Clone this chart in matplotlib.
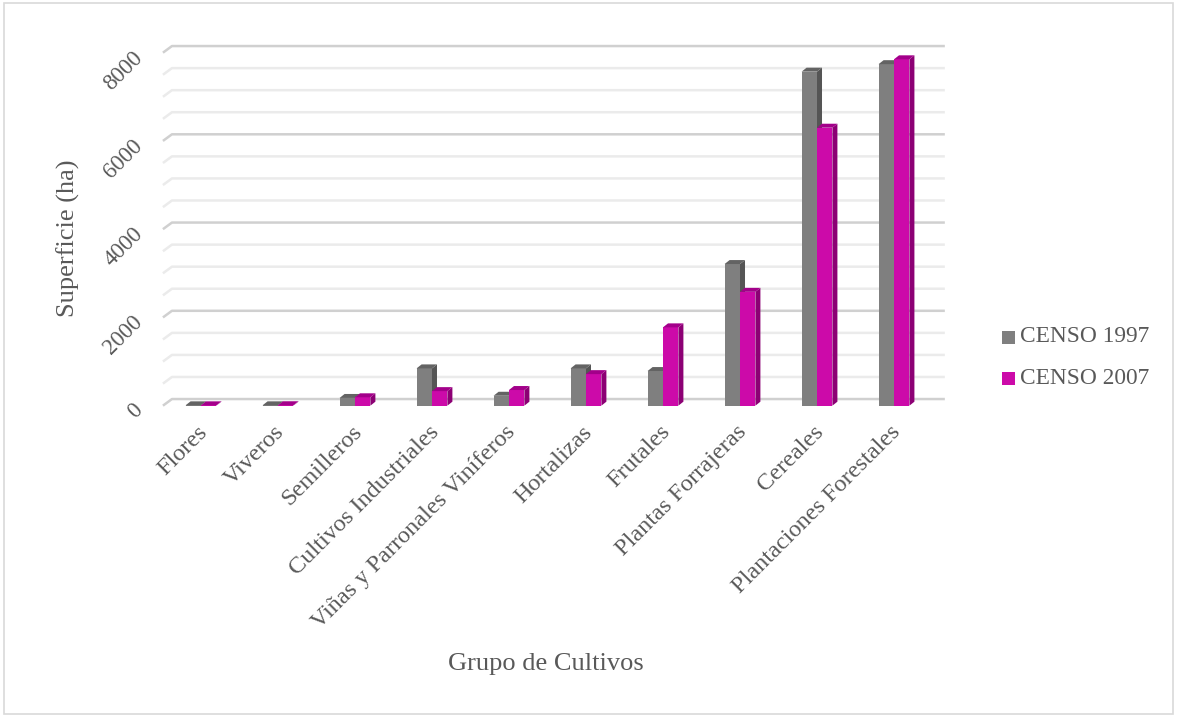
import matplotlib.pyplot as plt
import numpy as np
from matplotlib.patches import Polygon, Rectangle

# data (ha)
categories = ['Flores', 'Viveros', 'Semilleros', 'Cultivos Industriales',
              'Viñas y Parronales Viníferos', 'Hortalizas', 'Frutales',
              'Plantas Forrajeras', 'Cereales', 'Plantaciones Forestales']
censo_1997 = [8, 8, 175, 845, 225, 845, 785, 3210, 7570, 7740]
censo_2007 = [8, 10, 190, 330, 355, 715, 1775, 2580, 6300, 7850]
series_names = ['CENSO 1997', 'CENSO 2007']
yticks = [0, 2000, 4000, 6000, 8000]
minor_step = 500

front_cols = ['#7f7f7f', '#cc0aa9']
side_cols = ['#555555', '#8c0074']
top_cols = ['#636363', '#a3008a']
txt = '#595959'

plt.rcParams['font.family'] = ['Liberation Serif', 'DejaVu Serif']

fig = plt.figure(figsize=(11.77, 7.17), dpi=100)
fig.patch.set_facecolor('white')
fig.add_artist(Rectangle((0.003, 0.004), 0.994, 0.992, transform=fig.transFigure,
                         fill=False, edgecolor='#d9d9d9', lw=1.2))

ax = fig.add_axes([150 / 1177, 0.4096, 810 / 1177, 0.5477])
ax.set_xlim(-0.662, 9.857)
ax.set_ylim(-400, 8500)
ax.axis('off')

# 3d-ish offsets (category units / value units)
wall_dx, wall_dy = 0.117, 150
bar_dx, bar_dy = 0.065, 90
width = 0.2
x = np.arange(len(categories))

# back wall gridlines
grid_left, grid_right = -0.494, 9.66
for v in np.arange(0, yticks[-1] + 1, minor_step):
    major = v % 2000 == 0
    c = '#d0d0d0' if major else '#ebebeb'
    ax.plot([grid_left, grid_left + wall_dx, grid_right], [v, v + wall_dy, v + wall_dy],
            color=c, lw=1.8, solid_capstyle='butt', zorder=1)

# bars with side and top faces
for s, vals in enumerate([censo_1997, censo_2007]):
    xs = x - width / 2 + s * width
    bars = ax.bar(xs, vals, width=width, color=front_cols[s], zorder=3 + s,
                  label=series_names[s])
    for b in bars:
        x0, x1, h = b.get_x(), b.get_x() + b.get_width(), b.get_height()
        ax.add_patch(Polygon([(x1, 0), (x1 + bar_dx, bar_dy), (x1 + bar_dx, h + bar_dy), (x1, h)],
                             closed=True, facecolor=side_cols[s], edgecolor='none', zorder=3 + s))
        ax.add_patch(Polygon([(x0, h), (x0 + bar_dx, h + bar_dy), (x1 + bar_dx, h + bar_dy), (x1, h)],
                             closed=True, facecolor=top_cols[s], edgecolor='none', zorder=3 + s))

# y tick labels (rotated like the original)
for v in yticks:
    ax.text(-0.80, v - 40, str(v), rotation=45, rotation_mode='anchor',
            ha='right', va='center', fontsize=16.5, color=txt, clip_on=False)

# category labels
for i, name in enumerate(categories):
    ax.text(i - 0.05, -360, name, rotation=45, rotation_mode='anchor',
            ha='right', va='top', fontsize=17.5, color=txt, clip_on=False)

fig.text(68 / 1177, 1 - 238 / 717, 'Superficie (ha)', rotation=90, ha='center',
         va='center', fontsize=19, color=txt)
fig.text(546 / 1177, 1 - 664 / 717, 'Grupo de Cultivos', ha='center', va='center',
         fontsize=19, color=txt)

# legend
for s, name in enumerate(series_names):
    yy = 1 - (337 + 41 * s) / 717
    fig.patches.append(Rectangle((1002 / 1177, yy - 6.5 / 717), 13 / 1177, 13 / 717,
                                 transform=fig.transFigure, facecolor=front_cols[s],
                                 edgecolor='none'))
    fig.text(1020 / 1177, yy, name, ha='left', va='center', fontsize=16.8, color=txt)

fig.savefig('out.png', dpi=100)
